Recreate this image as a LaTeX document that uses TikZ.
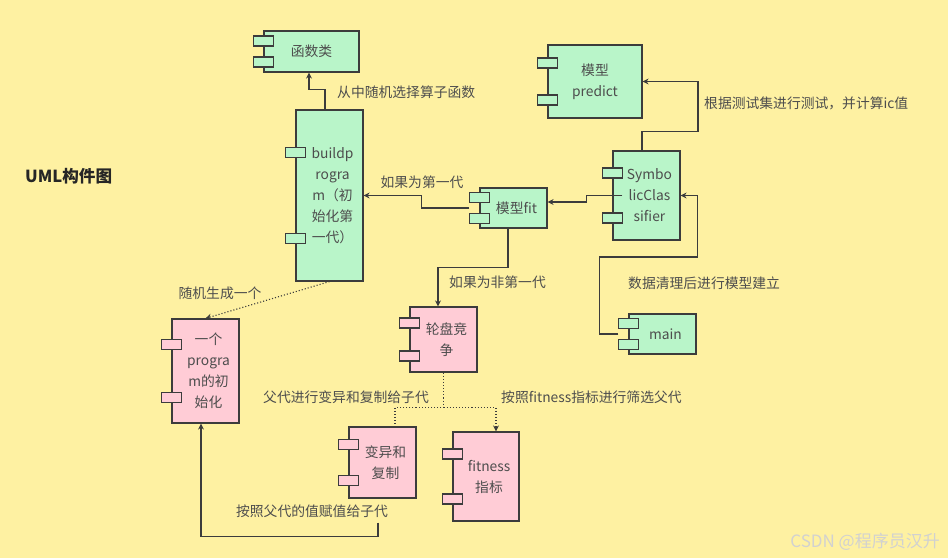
\documentclass[tikz,border=0pt]{standalone}
\usepackage{fontspec}
\setmainfont{Noto Sans CJK SC}
\usetikzlibrary{calc,arrows.meta}

\definecolor{bgyellow}{HTML}{FEF1A2}
\definecolor{compgreen}{HTML}{B9F5C9}
\definecolor{comppink}{HTML}{FFCCD6}
\definecolor{edgegray}{HTML}{3C3C3C}
\definecolor{textgray}{HTML}{4D4D4D}

% two small port boxes on the left side of a component
\newcommand{\ports}[2]{%
  \foreach \f in {0.25,0.75}
    \node[port, fill=#2] at ($(#1.north west)!\f!(#1.south west)$) {};
}

\begin{document}
\begin{tikzpicture}[x=1pt, y=-1pt, >={Stealth[length=6pt,width=6pt]},
    comp/.style={draw=edgegray, line width=1.2pt, text=textgray, align=center,
      inner sep=0pt, font=\fontsize{13.8}{21}\selectfont},
    port/.style={draw=edgegray, line width=1.2pt, minimum width=20pt,
      minimum height=10pt, inner sep=0pt},
    link/.style={edgegray, line width=1.1pt, ->},
    lbl/.style={text=textgray, inner sep=0pt, font=\fontsize{13.8}{16}\selectfont}]
  \fill[bgyellow] (0,0) rectangle (948,558);
  \useasboundingbox (0,0) rectangle (948,558);

  \node[anchor=west, inner sep=0pt, text=black!85,
    font=\fontsize{16.6}{16}\selectfont\bfseries] (title) at (25,176) {UML构件图};

  % components
  \node[comp, fill=compgreen, minimum width=95pt, minimum height=41pt] (func) at (311.5,51.5) {函数类};
  \node[comp, fill=compgreen, minimum width=67pt, minimum height=171pt] (build) at (329.5,195.5)
    {\hspace*{6pt}buildp\\\hspace*{6pt}rogra\\\hspace*{6pt}m（初\\\hspace*{6pt}始化第\\\hspace*{6pt}一代）};
  \node[comp, fill=compgreen, minimum width=67pt, minimum height=40pt] (fit) at (513.5,208) {\hspace*{6pt}模型fit};
  \node[comp, fill=compgreen, minimum width=67pt, minimum height=89pt] (symb) at (646.5,195.5)
    {\hspace*{6pt}Symbo\\\hspace*{6pt}licClas\\\hspace*{6pt}sifier};
  \node[comp, fill=compgreen, minimum width=94pt, minimum height=73pt] (predict) at (595,81.5)
    {模型\\predict};
  \node[comp, fill=compgreen, minimum width=67pt, minimum height=40pt] (main) at (662.5,334) {\hspace*{6pt}main};
  \node[comp, fill=comppink, minimum width=67pt, minimum height=104pt] (init) at (205.5,371)
    {\hspace*{6pt}一个\\\hspace*{6pt}progra\\\hspace*{6pt}m的初\\\hspace*{6pt}始化};
  \node[comp, fill=comppink, minimum width=67pt, minimum height=65pt] (wheel) at (443.5,339.5)
    {\hspace*{6pt}轮盘竞\\\hspace*{6pt}争};
  \node[comp, fill=comppink, minimum width=67pt, minimum height=71pt] (mut) at (382.5,462.5)
    {\hspace*{6pt}变异和\\\hspace*{6pt}复制};
  \node[comp, fill=comppink, minimum width=66pt, minimum height=89pt] (fitness) at (486,476.5)
    {\hspace*{6pt}fitness\\\hspace*{6pt}指标};

  \ports{func}{compgreen}
  \ports{build}{compgreen}
  \ports{fit}{compgreen}
  \ports{symb}{compgreen}
  \ports{predict}{compgreen}
  \ports{main}{compgreen}
  \ports{init}{comppink}
  \ports{wheel}{comppink}
  \ports{mut}{comppink}
  \ports{fitness}{comppink}

  % connectors
  \draw[link] ([xshift=-4.5pt]build.north) -- ++(0,-20) -| ([xshift=-2.5pt]func.south);
  \node[lbl, anchor=west] (l1) at (337,92) {从中随机选择算子函数};

  \draw[link] ([xshift=-10pt]fit.west) -- ++(-48,0) |- (build.east);
  \node[lbl] (l2) at (422,182) {如果为第一代};

  \draw[link] ([xshift=-5.5pt]fit.south) -- ++(0,39) -| ([xshift=-5.5pt]wheel.north);
  \node[lbl, anchor=west] (l3) at (449,282) {如果为非第一代};

  \draw[link] ([xshift=-4.5pt]symb.north) -- ++(0,-19) -- ++(56,0) |- (predict.east);
  \node[lbl, anchor=west] (l4) at (704,103) {根据测试集进行测试，并计算ic值};

  \draw[link] ([xshift=10pt]symb.west) -- ++(-36,0) |- ([yshift=6pt]fit.east);

  \draw[link] ([xshift=-10pt]main.west) -- ++(-19,0) -- ++(0,-77) -- ++(98,0) |- (symb.east);
  \node[lbl, anchor=west] (l5) at (628,283) {数据清理后进行模型建立};

  \draw[link, dotted] (build.south) -- (init.north);
  \node[lbl] (l6) at (220,293) {随机生成一个};

  \draw[edgegray, line width=1.1pt, dotted] (wheel.south) -- ++(0,35) coordinate (split)
    -| ([xshift=12.5pt]mut.north);
  \draw[link, dotted] (split) -| ([xshift=10pt]fitness.north);
  \node[lbl] (l7) at (346,397) {父代进行变异和复制给子代};
  \node[lbl, anchor=west] (l8) at (501,397) {按照fitness指标进行筛选父代};

  \draw[link] ([xshift=-4.5pt,yshift=-24pt]mut.south) -- ++(0,14) -| ([xshift=-4.5pt]init.south);
  \node[lbl] (l9) at (312,511) {按照父代的值赋值给子代};

  \node[anchor=east, inner sep=0pt, text=white!82!black,
    font=\fontsize{17}{17}\selectfont] (mark) at (940,542) {CSDN @程序员汉升};
\end{tikzpicture}
\end{document}
